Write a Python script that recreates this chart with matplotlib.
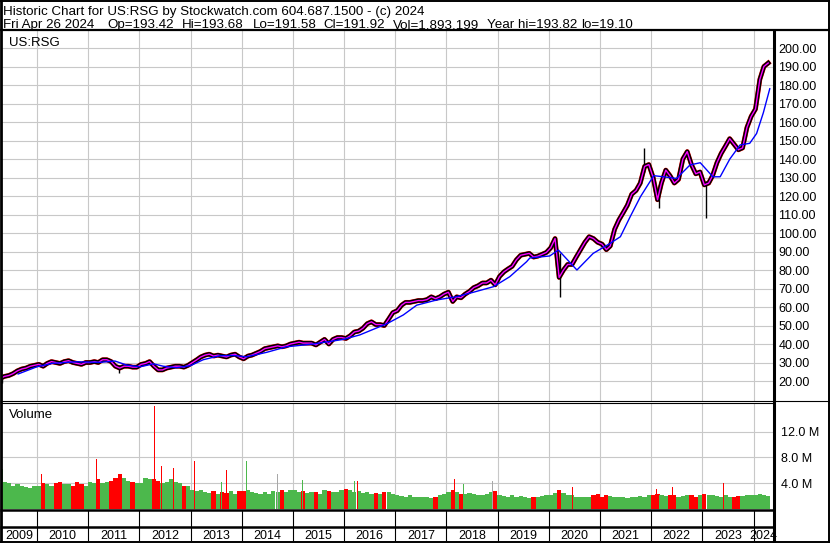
import numpy as np
import pandas as pd
import matplotlib
matplotlib.use("Agg")
import matplotlib.pyplot as plt
from matplotlib.lines import Line2D
from matplotlib.ticker import FormatStrFormatter, FuncFormatter

plt.rcParams['font.family'] = ['Liberation Sans', 'DejaVu Sans']

# monthly closes, Apr 2009 .. Apr 2024
price = [
    21.5, 22.5, 23.0, 24.0, 25.5, 26.5, 27.0, 28.0, 28.5,
    29.0, 28.0, 29.5, 30.5, 30.0, 29.5, 30.5, 31.0, 30.0, 29.5, 29.0, 30.0,
    30.0, 30.5, 30.0, 31.5, 31.5, 30.5, 28.0, 27.0, 28.0, 28.0, 27.5, 27.5,
    29.0, 29.5, 30.5, 28.0, 26.0, 26.0, 27.0, 27.5, 28.0, 28.0, 27.5, 28.5,
    30.0, 31.5, 33.0, 34.0, 34.5, 33.5, 34.0, 33.5, 33.0, 34.0, 34.5, 33.0,
    32.0, 33.5, 34.0, 35.0, 36.0, 37.5, 38.0, 38.5, 39.0, 38.5, 39.0, 40.0,
    40.5, 41.0, 40.5, 40.5, 40.5, 39.5, 41.0, 42.5, 40.0, 42.5, 43.5, 43.5,
    43.0, 44.5, 46.5, 47.0, 48.5, 51.0, 52.0, 50.5, 50.5, 50.0, 53.5, 57.0,
    58.0, 61.0, 62.5, 62.5, 63.0, 63.5, 63.5, 64.0, 65.5, 64.5, 65.5, 67.0,
    68.0, 63.0, 65.5, 65.0, 67.0, 68.5, 70.5, 71.5, 73.0, 73.0, 74.5, 72.0,
    76.5, 79.0, 80.5, 82.0, 85.5, 88.0, 88.5, 89.0, 87.0, 87.5, 88.5, 89.5,
    92.0, 97.0, 76.0, 80.0, 83.0, 83.0, 87.0, 91.0, 95.0, 98.0, 97.0, 95.0,
    94.0, 91.0, 93.0, 102.0, 107.0, 111.0, 115.0, 121.0, 123.0, 127.0, 136.0, 137.0,
    130.0, 118.0, 127.0, 134.0, 131.0, 127.0, 129.0, 140.0, 144.0, 137.0, 132.0, 133.0,
    126.0, 127.0, 131.0, 138.0, 143.0, 147.0, 151.0, 148.0, 145.0, 146.0, 157.0, 163.0,
    167.0, 183.0, 190.0, 191.9,
]

# monthly volume in millions
volume = [
    4.6, 4.2, 4.0, 3.6, 3.8, 3.6, 3.4, 3.2, 3.6,
    3.6, 4.0, 3.8, 3.6, 4.0, 4.2, 3.8, 3.9, 3.6, 4.2, 3.9, 3.6,
    4.2, 4.0, 4.6, 4.0, 4.2, 4.4, 4.8, 5.4, 4.8, 4.4, 4.2, 4.0,
    4.0, 4.8, 4.6, 4.6, 4.4, 4.0, 4.2, 4.6, 4.2, 4.0, 3.6, 3.6,
    2.9, 2.8, 3.0, 2.6, 2.5, 2.8, 2.4, 2.6, 2.5, 2.8, 2.4, 2.8,
    2.8, 3.0, 2.6, 2.5, 2.4, 2.6, 2.4, 2.8, 2.6, 3.0, 2.7, 3.0,
    2.9, 2.6, 2.8, 2.5, 2.7, 2.6, 2.4, 2.9, 2.8, 2.6, 2.7, 2.9,
    3.1, 2.9, 2.7, 2.8, 2.5, 2.6, 2.4, 2.5, 2.4, 2.6, 2.7, 2.4,
    2.1, 2.0, 1.9, 2.1, 1.8, 1.9, 1.8, 1.9, 1.7, 1.8, 2.1, 2.3,
    2.7, 2.9, 2.6, 2.4, 2.3, 2.5, 2.4, 2.2, 2.1, 2.4, 2.6, 2.8,
    2.1, 2.0, 1.9, 2.1, 1.9, 2.0, 1.8, 1.7, 1.8, 1.9, 2.0, 2.1,
    2.1, 2.5, 2.9, 2.5, 2.1, 2.2, 1.9, 1.8, 1.9, 1.9, 2.1, 2.3,
    1.9, 2.1, 2.0, 1.8, 1.8, 1.9, 1.7, 1.8, 1.9, 2.0, 1.9, 2.1,
    2.2, 2.3, 2.1, 2.0, 2.2, 2.1, 1.9, 2.0, 2.1, 2.2, 1.9, 2.1,
    2.3, 2.1, 2.2, 2.0, 1.9, 2.1, 1.8, 1.9, 2.0, 2.0, 2.1, 2.2,
    2.1, 2.3, 2.1, 2.0,
]

# long moving average (blue)
blue_dates = ["2009-08-20", "2010-01-01", "2010-04-27", "2010-10-12", "2011-03-28",
              "2011-07-12", "2011-10-05", "2012-01-08", "2012-04-12", "2012-06-20",
              "2012-09-24", "2013-01-01", "2013-04-01", "2013-07-30", "2013-11-03",
              "2014-02-06", "2014-06-28", "2014-11-17", "2015-05-26", "2015-12-28",
              "2016-04-22", "2016-11-03", "2017-02-27", "2017-06-03", "2017-10-23",
              "2018-03-14", "2018-07-13", "2018-12-03", "2019-03-29", "2019-07-27",
              "2019-08-19", "2020-01-08", "2020-03-10", "2020-07-20", "2020-11-13",
              "2021-03-14", "2021-05-26", "2021-08-04", "2021-10-16", "2022-01-19",
              "2022-03-29", "2022-07-01", "2022-10-05", "2022-12-17", "2023-03-17",
              "2023-05-08", "2023-07-16", "2023-09-27", "2023-12-05", "2024-01-23",
              "2024-03-11", "2024-04-26"]
blue_vals = [23.8, 27.7, 29.6, 30.4, 30.1, 30.8, 28.6, 27.7, 29.3, 28.0,
             27.2, 28.3, 31.5, 33.7, 33.8, 33.1, 35.5, 38.5, 40.0, 42.5,
             44.9, 51.0, 55.7, 61.0, 63.8, 65.6, 68.0, 71.0, 76.4, 84.5,
             86.5, 87.6, 90.8, 80.0, 89.0, 94.4, 98.0, 108.8, 119.6, 131.0,
             130.4, 129.5, 136.8, 138.0, 130.4, 130.4, 140.0, 147.6, 148.5, 153.8,
             165.0, 178.0]

# intraday extremes that stick out of the band
spike_dates = ["2009-04-28", "2011-08-09", "2020-03-23", "2021-11-13", "2022-02-24", "2023-01-25"]
spike_lows = [19.1, 24.3, 65.6, 133.0, 113.5, 108.0]
spike_highs = [22.5, 28.5, 89.0, 145.8, 126.0, 128.0]

# heavy volume weeks (millions)
vspike_dates = ["2009-04-30", "2009-07-15", "2010-02-05", "2010-10-29", "2011-03-04",
                "2011-08-10", "2011-12-01", "2012-04-20", "2012-06-10", "2012-09-01",
                "2012-11-02", "2013-01-30", "2013-08-12", "2013-09-16", "2014-02-03",
                "2014-09-15", "2014-10-30", "2015-03-13", "2015-08-19", "2016-03-14",
                "2016-04-05", "2017-10-05", "2018-03-02", "2018-05-01", "2018-11-28",
                "2020-02-21", "2020-06-19", "2022-02-10", "2022-06-01", "2023-01-05",
                "2023-06-01"]
vspike_vals = [6.2, 6.7, 5.5, 12.9, 7.7, 8.6, 7.4, 16.0, 6.7, 6.3,
               13.0, 7.4, 4.2, 6.0, 7.4, 5.4, 4.8, 4.5, 4.0, 4.4,
               4.4, 3.9, 4.7, 3.9, 4.4, 3.2, 3.4, 3.1, 3.4, 3.1, 4.1]
vspike_dir = ["up", "down", "down", "down", "down", "down", "down", "down", "down", "down",
              "down", "down", "up", "down", "up", "flat", "down", "up", "down", "up",
              "down", "down", "down", "up", "flat", "down", "down", "down", "down", "down",
              "down"]

header1 = "Historic Chart for US:RSG by Stockwatch.com 604.687.1500 - (c) 2024"
header2 = [("Fri Apr 26 2024", 3), ("Op=193.42", 107), ("Hi=193.68", 182), ("Lo=191.58", 253),
           ("Cl=191.92", 323), ("Vol=1,893,199", 393), ("Year hi=193.82", 487), ("lo=19.10", 581)]

W, H = 830, 543
GREEN = '#4cb84c'
dir_color = {"up": GREEN, "down": '#ff0000', "flat": '#a8a8a8'}


def rect(x0, y0, x1, y1):
    return [x0 / W, 1 - y1 / H, (x1 - x0) / W, (y1 - y0) / H]


def hline(y, x0, x1, lw):
    fig.add_artist(Line2D([x0 / W, x1 / W], [1 - y / H, 1 - y / H], color='black', lw=lw,
                          transform=fig.transFigure, solid_capstyle='butt'))


def vline(x, y0, y1, lw):
    fig.add_artist(Line2D([x / W, x / W], [1 - y0 / H, 1 - y1 / H], color='black', lw=lw,
                          transform=fig.transFigure, solid_capstyle='butt'))


months = pd.date_range('2009-04-01', '2024-04-01', freq='MS') + pd.Timedelta(days=14)
price = np.array(price)
volume = np.array(volume)
mcolors = [GREEN] + [GREEN if b >= a else '#ff0000' for a, b in zip(price[:-1], price[1:])]

xmin, xmax = pd.Timestamp('2009-04-27'), pd.Timestamp('2024-05-19')
year_starts = pd.date_range('2010-01-01', '2024-01-01', freq='YS')

fig = plt.figure(figsize=(W / 100, H / 100), dpi=100)
fig.patch.set_facecolor('white')

# ---- price panel
ax = fig.add_axes(rect(2, 31, 773, 401))
ax.set_xlim(xmin, xmax)
ax.set_ylim(9.2, 209.2)
ax.set_yticks(np.arange(20, 201, 10))
ax.yaxis.tick_right()
ax.yaxis.set_major_formatter(FormatStrFormatter('%.2f'))
ax.tick_params(axis='y', length=0, pad=4, labelsize=9)
ax.set_xticks(year_starts)
ax.tick_params(axis='x', length=0, labelbottom=False)
ax.grid(color='#c8c8c8', lw=0.8)
ax.set_axisbelow(True)
for s in ax.spines.values():
    s.set_visible(False)

ax.plot(months, price, color='#ff0000', lw=3.5)
ax.plot(months, price, color='black', lw=3.1)
ax.vlines(pd.to_datetime(spike_dates), spike_lows, spike_highs, color='black', lw=1.0)
ax.plot(months, price, color='#ff00ff', lw=1.0)
ax.plot(pd.to_datetime(blue_dates), blue_vals, color='#0000ff', lw=1.0)

# ---- volume panel
av = fig.add_axes(rect(2, 403, 773, 509))
av.set_xlim(xmin, xmax)
av.set_ylim(0, 16.43e6)
av.bar(months, volume * 1e6, width=30.5, color=mcolors, linewidth=0)
av.bar(pd.to_datetime(vspike_dates), np.array(vspike_vals) * 1e6, width=5,
       color=[dir_color[d] for d in vspike_dir], linewidth=0)
av.set_yticks([4e6, 8e6, 12e6])
av.yaxis.tick_right()
av.yaxis.set_major_formatter(FuncFormatter(lambda v, p: f"{v / 1e6:.1f} M"))
av.tick_params(axis='y', length=0, pad=6, labelsize=9)
av.set_xticks(year_starts)
av.tick_params(axis='x', length=0, labelbottom=False)
av.grid(color='#c8c8c8', lw=0.8)
av.set_axisbelow(True)
for s in av.spines.values():
    s.set_visible(False)

# ---- date strips
ad = fig.add_axes(rect(2, 510, 773, 541))
ad.set_xlim(xmin, xmax)
ad.set_ylim(0, 1)
ad.axis('off')
ad.vlines(year_starts, 0, 1, color='black', lw=0.8)
for yr in range(2009, 2025):
    a = max(pd.Timestamp(f'{yr}-01-01'), xmin)
    b = min(pd.Timestamp(f'{yr + 1}-01-01'), xmax)
    ad.text(a + (b - a) / 2, 0.06, str(yr), ha='center', va='baseline', fontsize=9)

# ---- frame lines
hline(0.7, 0, W, 1.4)
hline(542.3, 0, W, 1.4)
vline(0.7, 0, H, 2.0)
vline(829.3, 0, H, 1.4)
hline(30, 0, W, 1.6)
hline(400.8, 0, W, 0.8)
hline(402.8, 0, 773, 0.8)
hline(509.8, 0, 773, 1.8)
hline(527.2, 0, 773, 1.8)
vline(773.6, 30, H, 2.2)

# ---- texts
fig.text(3 / W, 1 - 15 / H, header1, fontsize=9.6, va='baseline')
for txt, xp in header2:
    fig.text(xp / W, 1 - 28.3 / H, txt, fontsize=9.6, va='baseline')
fig.text(9 / W, 1 - 46 / H, "US:RSG", fontsize=9.5, va='baseline')
fig.text(9 / W, 1 - 418 / H, "Volume", fontsize=9.5, va='baseline')

fig.savefig('out.png', dpi=100)
